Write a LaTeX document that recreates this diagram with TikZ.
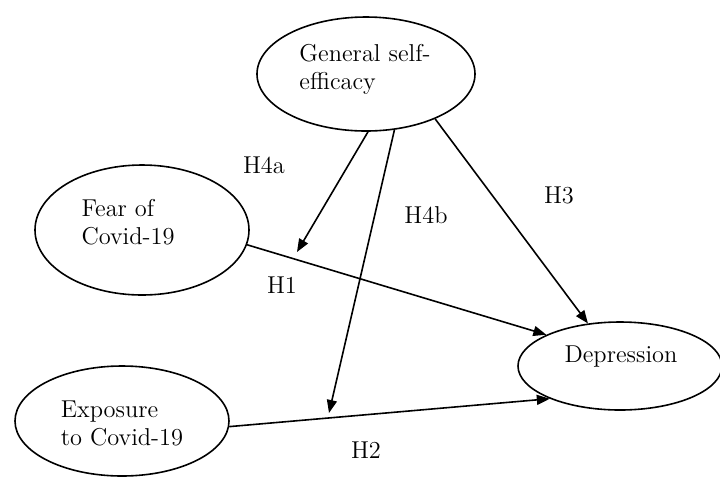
\documentclass[tikz,border=0pt]{standalone}
\usetikzlibrary{shapes.geometric,arrows.meta}
\begin{document}
\begin{tikzpicture}[x=0.5pt,y=-0.5pt,
  oval/.style={draw,ellipse,line width=0.8pt,inner sep=0pt},
  lbl/.style={font=\fontsize{12.2}{14}\selectfont,align=left,inner sep=0pt},
  arr/.style={line width=0.8pt,-{Triangle[length=6.5pt,width=5pt]}}]
\useasboundingbox (0,0) rectangle (720,479);
\node[oval,minimum width=109pt,minimum height=57pt] (gen) at (366,74) {};
\node[oval,minimum width=107pt,minimum height=65pt] (fear) at (142,230) {};
\node[oval,minimum width=107pt,minimum height=55pt] (expo) at (122,421) {};
\node[oval,minimum width=102pt,minimum height=44pt] (dep) at (620,366) {};
\node[lbl] (gent) at (365,69) {General self-\\efficacy};
\node[lbl] (feart) at (128,222) {Fear of\\Covid-19};
\node[lbl] (expot) at (122,423) {Exposure\\to Covid-19};
\node[lbl] (dept) at (621,357) {Depression};
\coordinate (h4atip) at (297,252);
\coordinate (h4btip) at (329,413);
\draw[arr] (fear.-8) -- (dep.157);
\draw[arr] (expo.-3) -- (dep.205);
\draw[arr] (gen.-33) -- (dep.127);
\draw[arr] (gen.-88) -- (h4atip);
\draw[arr] (gen.-63) -- (h4btip);
\node[lbl] (h4a) at (264,165) {H4a};
\node[lbl] (h1) at (282,285) {H1};
\node[lbl] (h4b) at (426,215) {H4b};
\node[lbl] (h3) at (559,195) {H3};
\node[lbl] (h2) at (366,450) {H2};
\end{tikzpicture}
\end{document}
